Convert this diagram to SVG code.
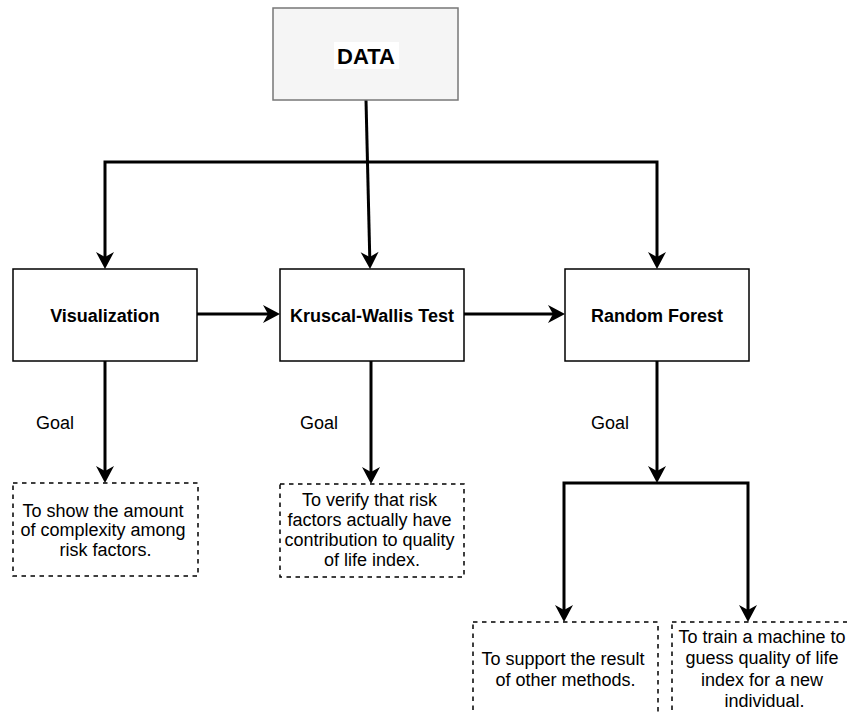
<svg xmlns="http://www.w3.org/2000/svg" width="847" height="713" viewBox="0 0 847 713">
  <style>
    .box { fill: #ffffff; stroke: #000000; stroke-width: 1.5; }
    .src { fill: #f5f5f5; stroke: #777777; stroke-width: 1.5; }
    .goal { fill: #ffffff; stroke: #000000; stroke-width: 1.5; stroke-dasharray: 4.5 4.5; }
    .title { font-family: "Liberation Sans", Arial, Helvetica, sans-serif; font-weight: bold; font-size: 18px; fill: #000000; text-anchor: middle; }
    .txt { font-family: "Liberation Sans", Arial, Helvetica, sans-serif; font-size: 18px; fill: #000000; text-anchor: middle; }
    .lbl { font-family: "Liberation Sans", Arial, Helvetica, sans-serif; font-size: 18px; fill: #000000; }
    .edge { fill: none; stroke: #000000; stroke-width: 3; stroke-linejoin: miter; }
  </style>
  <defs>
    <marker id="arrow" markerUnits="userSpaceOnUse" viewBox="-10 -11 22 22" markerWidth="22" markerHeight="22" refX="0" refY="0" orient="auto">
      <path d="M10,0 L-7,-9 L-2,0 L-7,9 Z" fill="#000000"/>
    </marker>
  </defs>

  <rect width="847" height="713" fill="#ffffff"/>

  <!-- connectors -->
  <g id="connectors">
    <path class="edge" d="M366,100 L369.8,259" marker-end="url(#arrow)"/>
    <path class="edge" d="M366,162 L105,162 L105,259" marker-end="url(#arrow)"/>
    <path class="edge" d="M366,162 L657,162 L657,259" marker-end="url(#arrow)"/>
    <path class="edge" d="M197,314 L270,314" marker-end="url(#arrow)"/>
    <path class="edge" d="M464,314 L555,314" marker-end="url(#arrow)"/>
    <path class="edge" d="M105,361 L105,473" marker-end="url(#arrow)"/>
    <path class="edge" d="M371,361 L371,474" marker-end="url(#arrow)"/>
    <path class="edge" d="M657,361 L657,473" marker-end="url(#arrow)"/>
    <path class="edge" d="M657,483 L564,483 L564,612" marker-end="url(#arrow)"/>
    <path class="edge" d="M657,483 L748,483 L748,612" marker-end="url(#arrow)"/>
    <text class="lbl" x="36" y="429">Goal</text>
    <text class="lbl" x="300" y="429">Goal</text>
    <text class="lbl" x="591" y="429">Goal</text>
  </g>

  <g id="data">
    <rect class="src" x="273" y="8" width="185" height="92"/>
    <rect x="334" y="42" width="65" height="27" fill="#ffffff"/>
    <text class="title" x="366" y="63.5" style="font-size:22px">DATA</text>
  </g>

  <g id="visualization">
    <rect class="box" x="13" y="269" width="184" height="92"/>
    <text class="title" x="105" y="321.5">Visualization</text>
  </g>

  <g id="kruskal-wallis">
    <rect class="box" x="280" y="269" width="184" height="92"/>
    <text class="title" x="372" y="321.5">Kruscal-Wallis Test</text>
  </g>

  <g id="random-forest">
    <rect class="box" x="565" y="269" width="184" height="92"/>
    <text class="title" x="657" y="321.5">Random Forest</text>
  </g>

  <g id="goal-visualization">
    <rect class="goal" x="13" y="483" width="185" height="93"/>
    <text class="txt" x="105.5">
      <tspan x="105.5" y="516.5">To show the amount</tspan>
      <tspan x="105.5" y="536">of complexity among</tspan>
      <tspan x="105.5" y="555.5">risk factors.</tspan>
    </text>
  </g>

  <g id="goal-kruskal">
    <rect class="goal" x="280" y="484" width="184" height="93"/>
    <text class="txt" x="372">
      <tspan x="372" y="506">To verify that risk</tspan>
      <tspan x="372" y="526">factors actually have</tspan>
      <tspan x="372" y="546">contribution to quality</tspan>
      <tspan x="372" y="566">of life index.</tspan>
    </text>
  </g>

  <g id="goal-support">
    <rect class="goal" x="473" y="622" width="185" height="93"/>
    <text class="txt" x="565.5">
      <tspan x="565.5" y="664.5">To support the result</tspan>
      <tspan x="565.5" y="686">of other methods.</tspan>
    </text>
  </g>

  <g id="goal-train">
    <rect class="goal" x="672" y="622" width="185" height="93"/>
    <text class="txt" x="764.5">
      <tspan x="764.5" y="642.5">To train a machine to</tspan>
      <tspan x="764.5" y="664">guess quality of life</tspan>
      <tspan x="764.5" y="685.5">index for a new</tspan>
      <tspan x="764.5" y="707">individual.</tspan>
    </text>
  </g>
</svg>
